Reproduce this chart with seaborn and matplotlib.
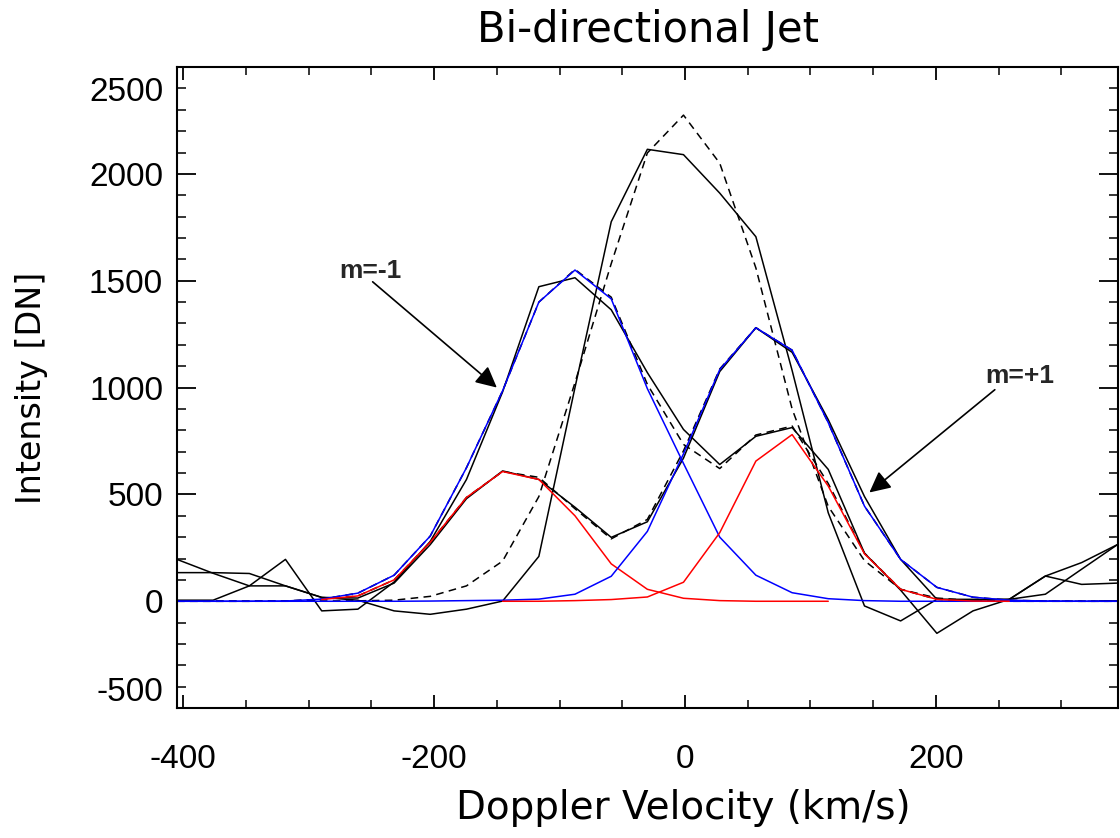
import matplotlib
matplotlib.use('Agg')
import matplotlib.pyplot as plt
import matplotlib.transforms as mtransforms
import seaborn as sns
from matplotlib.ticker import MultipleLocator, FuncFormatter

# ---------------- data ----------------
velocity = [-405.0, -376.2, -347.3, -318.5, -289.6, -260.8, -231.9, -203.1, -174.2,
            -145.4, -116.5, -87.7, -58.8, -30.0, -1.2, 27.7, 56.5, 85.4, 114.2,
            143.1, 171.9, 200.8, 229.6, 258.5, 287.3, 316.2, 345.0]

# observed spectra (solid black)
data_m1 = [5, 5, 72, 196, -45, -37, 90, 280, 570, 980, 1472, 1514, 1364, 1070,
           804, 640, 772, 813, 617, 225, 52, -150, -45, 9, 33, 150, 266]
data_m0 = [196, 131, 72, 72, 18, 5, -45, -61, -37, 1, 210, 1000, 1776, 2115,
           2090, 1910, 1706, 1080, 414, -22, -92, 9, 5, 9, 118, 181, 266]
data_p1 = [134, 134, 130, 72, 18, 15, 85, 265, 480, 610, 570, 440, 299, 372,
           670, 1075, 1280, 1165, 850, 490, 196, 9, 9, 9, 118, 79, 85]

# fits (dashed black)
fit_m1 = [0, 0, 0, 1, 10, 38, 122, 305, 625, 985, 1400, 1553, 1423, 1015,
          734, 621, 778, 820, 551, 225, 56, 9, 1, 0, 0, 0, 0]
fit_m0 = [0, 0, 0, 0, 1, 2, 5, 23, 72, 188, 490, 1023, 1580, 2098,
          2275, 2050, 1560, 900, 444, 190, 56, 15, 3, 0, 0, 0, 0]
fit_p1 = [0, 0, 0, 1, 8, 25, 100, 276, 486, 607, 580, 433, 292, 383,
          704, 1087, 1280, 1175, 836, 445, 196, 65, 19, 5, 1, 0, 0]

# blue components (full velocity range)
blue_m1 = [0, 0, 0, 1, 10, 38, 122, 305, 625, 985, 1400, 1550, 1415, 995,
           645, 300, 122, 40, 12, 3, 0, 0, 0, 0, 0, 0, 0]
blue_p1 = [0, 0, 0, 0, 0, 0, 0, 1, 3, 5, 10, 33, 117, 327,
           690, 1084, 1280, 1175, 836, 445, 196, 65, 19, 5, 1, 0, 0]
# red components (limited velocity range)
vel_red_m1 = velocity[4:19]
red_m1 = [8, 25, 100, 276, 486, 607, 570, 400, 175, 56, 14, 3, 0, 0, 0]
vel_red_p1 = velocity[9:24]
red_p1 = [0, 0, 3, 8, 20, 89, 321, 656, 780, 539, 222, 56, 9, 1, 0]

title = "Bi-directional Jet"
xlabel = "Doppler Velocity (km/s)"
ylabel = "Intensity [DN]"
y_min, y_max = -500, 2500

# ---------------- style ----------------
sns.set_theme(style='white')
plt.rcParams['font.family'] = ['Liberation Sans', 'DejaVu Sans']
plt.rcParams['axes.unicode_minus'] = False

fig = plt.figure(figsize=(11.2, 8.38), dpi=100)
ax = fig.add_axes([0.158, 0.155, 0.840, 0.765])

lw = 1.1
for y in (data_m1, data_m0, data_p1):
    sns.lineplot(x=velocity, y=y, ax=ax, color='black', lw=lw,
                 estimator=None, sort=False)
for y in (fit_m1, fit_m0, fit_p1):
    sns.lineplot(x=velocity, y=y, ax=ax, color='black', lw=lw,
                 linestyle=(0, (5, 3.5)), estimator=None, sort=False)
sns.lineplot(x=velocity, y=blue_m1, ax=ax, color='#0000ff', lw=lw,
             estimator=None, sort=False)
sns.lineplot(x=vel_red_m1, y=red_m1, ax=ax, color='#ff0000', lw=lw,
             estimator=None, sort=False)
sns.lineplot(x=velocity, y=blue_p1, ax=ax, color='#0000ff', lw=lw,
             estimator=None, sort=False)
sns.lineplot(x=vel_red_p1, y=red_p1, ax=ax, color='#ff0000', lw=lw,
             estimator=None, sort=False)

ax.set_xlim(velocity[0], velocity[-1])
ax.set_ylim(y_min, y_max)
ax.xaxis.set_major_locator(MultipleLocator(200))
ax.xaxis.set_minor_locator(MultipleLocator(50))
ax.yaxis.set_major_locator(MultipleLocator(500))
ax.yaxis.set_minor_locator(MultipleLocator(100))
# end labels are drawn separately (shifted inside, as in the original)
ax.yaxis.set_major_formatter(FuncFormatter(
    lambda v, p: '' if v in (y_min, y_max) else f'{v:.0f}'))

for s in ax.spines.values():
    s.set_color('black')
    s.set_linewidth(1.5)

ax.tick_params(axis='x', which='major', direction='in', length=9.5, width=1.3,
               top=True, bottom=True, labelsize=24, pad=26, colors='black')
ax.tick_params(axis='x', which='minor', direction='in', length=5.5, width=1.3,
               top=True, bottom=True)
ax.tick_params(axis='y', which='major', direction='in', length=13.5, width=1.3,
               left=True, right=True, labelsize=24, pad=10, colors='black')
ax.tick_params(axis='y', which='minor', direction='in', length=6.8, width=1.3,
               left=True, right=True)

blend = mtransforms.blended_transform_factory(ax.transAxes, ax.transData)
off_top = blend + mtransforms.ScaledTranslation(-10 / 72, -7 / 72, fig.dpi_scale_trans)
off_bot = blend + mtransforms.ScaledTranslation(-10 / 72, 0, fig.dpi_scale_trans)
ax.text(0, y_max, f'{y_max}', transform=off_top, fontsize=24,
        ha='right', va='top', color='black')
ax.text(0, y_min, f'{y_min}', transform=off_bot, fontsize=24,
        ha='right', va='bottom', color='black')

W, H = 1120.0, 838.0
lab_font = ['DejaVu Sans']
fig.text(648 / W, 1 - 30 / H, title, fontsize=30, family=lab_font,
         ha='center', va='center', color='black')
fig.text(683 / W, 1 - 808 / H, xlabel, fontsize=28, family=lab_font,
         ha='center', va='center', color='black')
fig.text(32 / W, 1 - 388 / H, ylabel, fontsize=24, family=lab_font,
         rotation=90, ha='center', va='center', color='black')

# annotations
arrow = dict(arrowstyle='-|>', mutation_scale=32, lw=1.2, color='black',
             shrinkA=0, shrinkB=0)
ax.annotate('', xy=(-150, 1000), xytext=(-249, 1495), arrowprops=arrow)
ax.text(-251, 1545, 'm=-1', fontsize=19, fontweight='bold', ha='center', va='center')
ax.annotate('', xy=(147, 509), xytext=(247, 990), arrowprops=arrow)
ax.text(267, 1052, 'm=+1', fontsize=19, fontweight='bold', ha='center', va='center')

fig.savefig('out.png', dpi=100, facecolor='white')
